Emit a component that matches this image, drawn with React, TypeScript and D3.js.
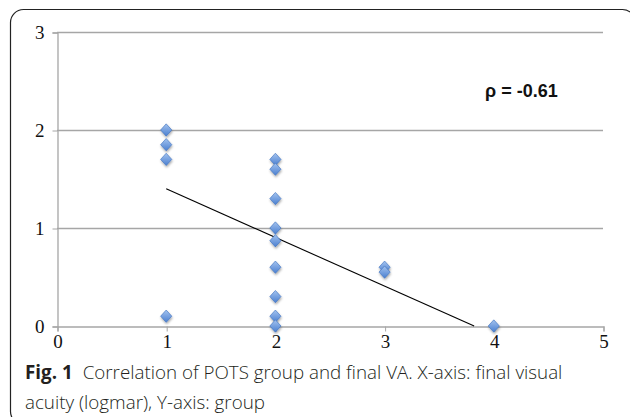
import { useEffect, useRef } from "react";
import * as d3 from "d3";

// final visual acuity (logmar) vs POTS group
const groupX = [1, 1, 1, 1, 2, 2, 2, 2, 2, 2, 2, 2, 2, 3, 3, 4];
const acuityY = [2.0, 1.85, 1.7, 0.1, 1.7, 1.6, 1.3, 1.0, 0.87, 0.6, 0.3, 0.1, 0, 0.6, 0.55, 0];
const trendX = [1, 3.82];
const trendY = [1.4, 0];
const xTicks = [0, 1, 2, 3, 4, 5];
const yTicks = [0, 1, 2, 3];
const rhoLabel = "ρ = -0.61";
const captionBold = "Fig. 1";
const captionLine1 = "Correlation of POTS group and final VA. X-axis: final visual";
const captionLine2 = "acuity (logmar), Y-axis: group";

export default function App() {
  const ref = useRef<SVGSVGElement>(null);

  useEffect(() => {
    if (!ref.current) return;
    const svg = d3.select(ref.current);
    svg.selectAll("*").remove();

    const x = d3.scaleLinear().domain([0, 5]).range([57, 603]);
    const y = d3.scaleLinear().domain([0, 3]).range([326, 32]);

    const defs = svg.append("defs");
    const grad = defs
      .append("linearGradient")
      .attr("id", "dia")
      .attr("x1", "0%")
      .attr("y1", "0%")
      .attr("x2", "0%")
      .attr("y2", "100%");
    grad.append("stop").attr("offset", "0%").attr("stop-color", "#a3c3ef");
    grad.append("stop").attr("offset", "100%").attr("stop-color", "#4a7fd0");
    const filt = defs.append("filter").attr("id", "shadow").attr("x", "-50%").attr("y", "-50%").attr("width", "200%").attr("height", "200%");
    filt
      .append("feDropShadow")
      .attr("dx", 0.5)
      .attr("dy", 1.5)
      .attr("stdDeviation", 1)
      .attr("flood-color", "#000")
      .attr("flood-opacity", 0.35);

    // frame
    svg
      .append("rect")
      .attr("x", 10.5)
      .attr("y", 9.5)
      .attr("width", 625)
      .attr("height", 415)
      .attr("rx", 13)
      .attr("fill", "none")
      .attr("stroke", "#222")
      .attr("stroke-width", 1.2);

    // gridlines
    svg
      .append("g")
      .selectAll("line")
      .data(yTicks.filter((d) => d > 0))
      .join("line")
      .attr("x1", x(0))
      .attr("x2", x(5))
      .attr("y1", (d) => y(d) + 0.5)
      .attr("y2", (d) => y(d) + 0.5)
      .attr("stroke", "#a6a6a6")
      .attr("stroke-width", 1.3);

    const font = "'Liberation Serif', 'Times New Roman', serif";

    // y axis
    const yAxis = svg
      .append("g")
      .attr("transform", `translate(${x(0) + 0.5},0.5)`)
      .call(d3.axisLeft(y).tickValues(yTicks).tickSize(5).tickPadding(8).tickFormat(d3.format("d")));
    yAxis.select(".domain").attr("stroke", "#a6a6a6").attr("stroke-width", 1.3);
    yAxis.selectAll(".tick line").attr("stroke", "#a6a6a6");
    yAxis.selectAll("text").style("font-family", font).style("font-size", "19px").attr("fill", "#111");

    // x axis
    const xAxis = svg
      .append("g")
      .attr("transform", `translate(0.5,${y(0) + 0.5})`)
      .call(d3.axisBottom(x).tickValues(xTicks).tickSize(5).tickPadding(3).tickFormat(d3.format("d")));
    xAxis.select(".domain").attr("stroke", "#a6a6a6").attr("stroke-width", 1.3);
    xAxis.selectAll(".tick line").attr("stroke", "#a6a6a6");
    xAxis.selectAll("text").style("font-family", font).style("font-size", "19px").attr("fill", "#111");

    // trend line
    const line = d3
      .line<number>()
      .x((d) => x(trendX[d]))
      .y((d) => y(trendY[d]));
    svg
      .append("path")
      .attr("d", line([0, 1]))
      .attr("fill", "none")
      .attr("stroke", "#000")
      .attr("stroke-width", 1.1);

    // points
    const sym = d3.symbol().type(d3.symbolDiamond2).size(80);
    svg
      .append("g")
      .selectAll("path")
      .data(groupX.map((gx, i) => [gx, acuityY[i]]))
      .join("path")
      .attr("d", sym)
      .attr("transform", (d) => `translate(${x(d[0])},${y(d[1])}) scale(1,1.1)`)
      .attr("fill", "url(#dia)")
      .attr("stroke", "#3f72c0")
      .attr("stroke-width", 0.6)
      .attr("filter", "url(#shadow)");

    svg
      .append("text")
      .attr("x", 485)
      .attr("y", 97)
      .style("font-family", "'Liberation Sans', Arial, sans-serif")
      .style("font-weight", "bold")
      .style("font-size", "18px")
      .attr("fill", "#111")
      .text(rhoLabel);

    // caption
    const capFont = "'Open Sans', 'Noto Sans', sans-serif";
    const cap = svg
      .append("text")
      .attr("x", 25)
      .attr("y", 379)
      .style("font-family", capFont)
      .style("font-size", "18.8px")
      .attr("fill", "#231f20");
    cap.append("tspan").style("font-weight", "bold").text(captionBold);
    cap.append("tspan").attr("dx", 10).style("font-weight", 300).text(captionLine1);
    svg
      .append("text")
      .attr("x", 25)
      .attr("y", 409)
      .style("font-family", capFont)
      .style("font-size", "18.8px")
      .style("font-weight", 300)
      .attr("fill", "#231f20")
      .text(captionLine2);
  }, []);

  return (
    <svg
      ref={ref}
      width={630}
      height={417}
      style={{ position: "absolute", left: 0, top: 0, background: "#fff" }}
    />
  );
}
